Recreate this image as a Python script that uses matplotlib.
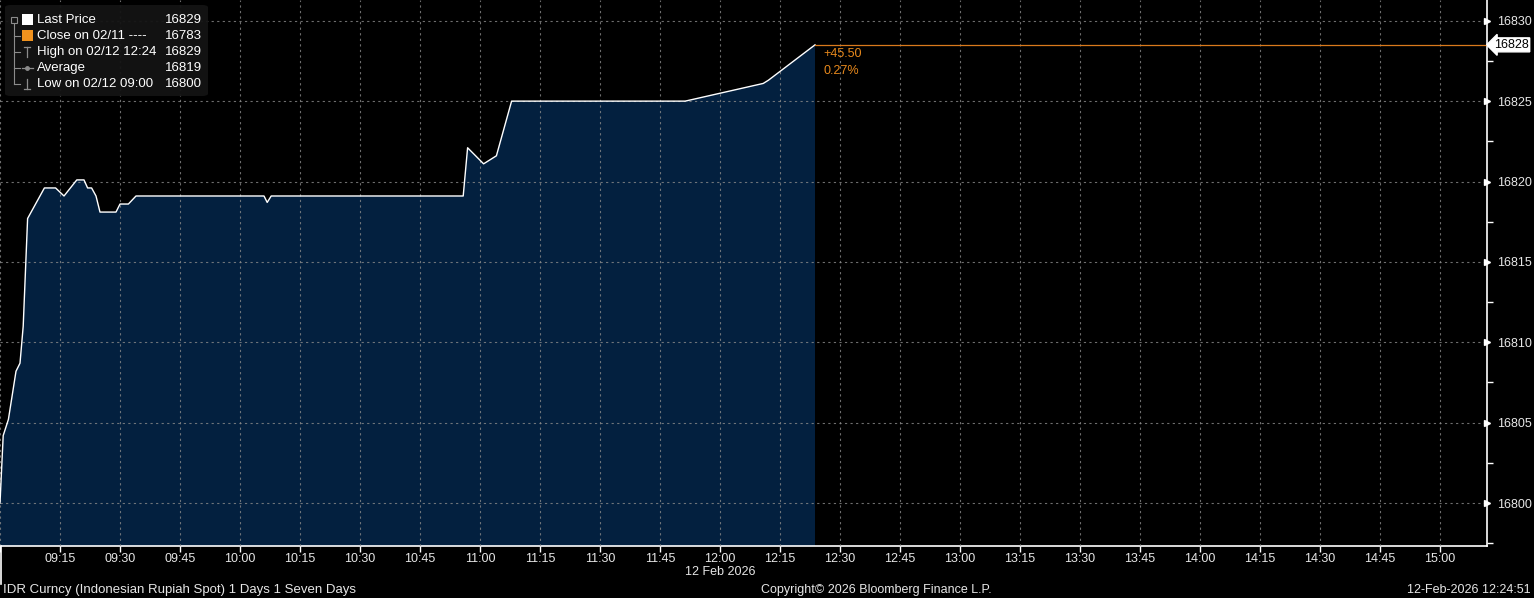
import matplotlib
matplotlib.use("Agg")
import matplotlib.pyplot as plt
from matplotlib.lines import Line2D
from matplotlib.patches import FancyBboxPatch, Rectangle
import pandas as pd

plt.rcParams["font.family"] = ["Liberation Sans", "DejaVu Sans"]

# intraday IDR spot, 12 Feb 2026
times = ["09:00:00", "09:00:48", "09:02:06", "09:04:00", "09:05:00", "09:05:48",
         "09:06:54", "09:11:06", "09:13:54", "09:16:00", "09:19:12", "09:21:00",
         "09:21:54", "09:22:54", "09:24:00", "09:25:00", "09:29:00", "09:30:00",
         "09:32:06", "09:34:00", "10:06:00", "10:06:48", "10:07:48", "10:55:48",
         "10:56:54", "11:00:54", "11:04:06", "11:07:54", "11:51:18", "12:10:48",
         "12:12:06", "12:23:45"]
prices = [16800.0, 16804.2, 16805.2, 16808.2, 16808.7, 16811.0,
          16817.7, 16819.6, 16819.6, 16819.1, 16820.1, 16820.1,
          16819.6, 16819.6, 16819.1, 16818.1, 16818.1, 16818.6,
          16818.6, 16819.1, 16819.1, 16818.7, 16819.1, 16819.1,
          16822.1, 16821.1, 16821.6, 16825.0, 16825.0, 16826.1,
          16826.3, 16828.5]

tick_labels = ["09:15", "09:30", "09:45", "10:00", "10:15", "10:30", "10:45",
               "11:00", "11:15", "11:30", "11:45", "12:00", "12:15", "12:30",
               "12:45", "13:00", "13:15", "13:30", "13:45", "14:00", "14:15",
               "14:30", "14:45", "15:00"]
y_ticks = [16800, 16805, 16810, 16815, 16820, 16825, 16830]
y_minor = [16797.5, 16802.5, 16807.5, 16812.5, 16817.5, 16822.5, 16827.5]

legend_names = ["Last Price", "Close on 02/11 ----", "High on 02/12 12:24",
                "Average", "Low on 02/12 09:00"]
legend_values = ["16829", "16783", "16829", "16819", "16800"]

change = "+45.50"
change_pct = "0.27%"
last_label = "16828"

day = "2026-02-12 "
t = pd.to_datetime([day + s for s in times])
x_ticks = pd.to_datetime([day + s for s in tick_labels])
x_start = pd.Timestamp(day + "09:00:00")
x_end = pd.Timestamp(day + "15:11:45")

W, H = 1534, 598
fig = plt.figure(figsize=(W / 100, H / 100), dpi=100, facecolor="black")
ax = fig.add_axes([0, 52 / H, 1487 / W, 546 / H], facecolor="black")

ax.fill_between(t, prices, 16790, color="#03203f", lw=0, zorder=1)
ax.plot(t, prices, color="white", lw=1.0, zorder=3)

# last price line in orange
ax.plot([t[-1], x_end], [prices[-1], prices[-1]], color="#d9791c", lw=0.9, zorder=3)
ax.text(t[-1] + pd.Timedelta(minutes=2), prices[-1] - 0.55, change, color="#e8891c",
        fontsize=9, va="center", ha="left")
ax.text(t[-1] + pd.Timedelta(minutes=2), prices[-1] - 1.6, change_pct, color="#e8891c",
        fontsize=9, va="center", ha="left")

ax.set_xlim(x_start, x_end)
ax.set_ylim(16797.33, 16831.29)

ax.set_xticks([x_start] + list(x_ticks))
ax.set_xticklabels([""] + tick_labels)
ax.set_yticks(y_ticks)
ax.set_yticks(y_minor, minor=True)
ax.yaxis.tick_right()

ax.tick_params(axis="x", colors="white", length=4, width=1, direction="out", pad=1,
               labelsize=9, labelcolor="#e6e6e6")
ax.tick_params(axis="y", which="major", colors="white", length=0, pad=7,
               labelsize=9, labelcolor="#e6e6e6")
ax.tick_params(axis="y", which="minor", colors="white", length=4, width=1)

# triangle tick markers on the price axis
ax.plot([1] * len(y_ticks), y_ticks, marker=">", ms=5, color="white", ls="none",
        transform=ax.get_yaxis_transform(), clip_on=False, zorder=5)

ax.grid(True, which="major", color="#8a8a8a", alpha=0.8, lw=0.8, ls=(0, (2, 3)))
ax.set_axisbelow(False)

for side in ["top", "left"]:
    ax.spines[side].set_visible(False)
for side in ["right", "bottom"]:
    ax.spines[side].set_color("white")
    ax.spines[side].set_linewidth(1.2)

# last price box on the axis
ax.annotate(last_label, xy=(1, prices[-1]), xycoords=ax.get_yaxis_transform(),
            xytext=(5, 0), textcoords="offset points", ha="left", va="center",
            fontsize=9, color="black",
            bbox=dict(boxstyle="larrow,pad=0.08", fc="white", ec="white"),
            annotation_clip=False, zorder=6)


def fx(px):
    return px / W


def fy(py):
    return 1 - py / H


# date label and footer
fig.text(fx(720), fy(572), "12 Feb 2026", color="#e6e6e6", fontsize=9,
         ha="center", va="center")
fig.text(fx(3), fy(590), "IDR Curncy (Indonesian Rupiah Spot) 1 Days 1 Seven Days",
         color="#e6e6e6", fontsize=9.5, ha="left", va="center")
fig.text(fx(876), fy(590), "Copyright\u00a9 2026 Bloomberg Finance L.P.",
         color="#e6e6e6", fontsize=9, ha="center", va="center")
fig.text(fx(1531), fy(590), "12-Feb-2026 12:24:51", color="#e6e6e6", fontsize=9,
         ha="right", va="center")
fig.add_artist(Line2D([fx(1), fx(1)], [fy(546), fy(584)], color="white", lw=1.2))

# legend panel
fig.add_artist(FancyBboxPatch((fx(5), fy(96)), fx(203), 91 / H,
                              boxstyle="round,pad=0,rounding_size=0.004",
                              fc="#141414", ec="none", alpha=0.95))
row_y = [20, 36, 52, 68, 84]
for i, (name, val) in enumerate(zip(legend_names, legend_values)):
    fig.text(fx(37), fy(row_y[i]), name, color="white", fontsize=9.5, ha="left",
             va="center")
    fig.text(fx(202), fy(row_y[i]), val, color="white", fontsize=9.5, ha="right",
             va="center")
gray = "#8c8c8c"
fig.add_artist(Line2D([fx(14), fx(14)], [fy(24), fy(84)], color=gray, lw=0.8))
for ry in row_y[1:]:
    fig.add_artist(Line2D([fx(14), fx(20)], [fy(ry), fy(ry)], color=gray, lw=0.8))
fig.add_artist(Rectangle((fx(11), fy(23)), fx(6), 6 / H, fill=False, ec=gray, lw=0.8))
fig.add_artist(Rectangle((fx(22), fy(25)), fx(11), 11 / H, fc="white", ec="none"))
fig.add_artist(Rectangle((fx(22), fy(41)), fx(11), 11 / H, fc="#f0921e", ec="none"))
# high / average / low glyphs
fig.add_artist(Line2D([fx(27), fx(27)], [fy(47), fy(57)], color=gray, lw=0.9))
fig.add_artist(Line2D([fx(24), fx(30)], [fy(47), fy(47)], color=gray, lw=0.9))
fig.add_artist(Line2D([fx(22), fx(33)], [fy(68), fy(68)], color=gray, lw=0.9))
fig.add_artist(Line2D([fx(27)], [fy(68)], color=gray, marker="o", ms=2.5, ls="none"))
fig.add_artist(Line2D([fx(27), fx(27)], [fy(79), fy(89)], color=gray, lw=0.9))
fig.add_artist(Line2D([fx(24), fx(30)], [fy(89), fy(89)], color=gray, lw=0.9))

fig.savefig("out.png", dpi=100, facecolor="black")
